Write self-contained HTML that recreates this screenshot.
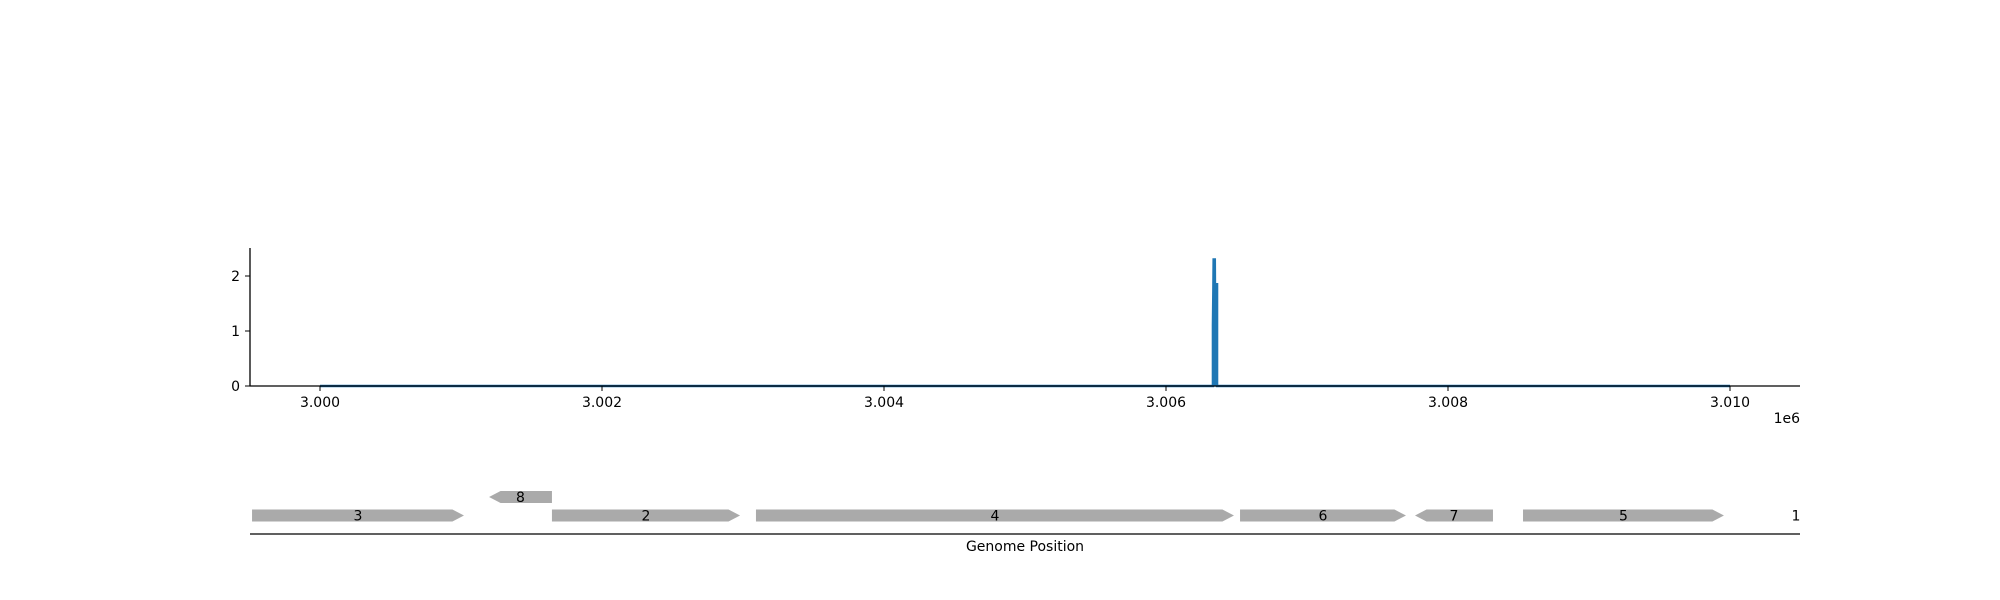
<!DOCTYPE html>
<html><head><meta charset="utf-8"><style>
body{margin:0;background:#fff;}
svg{display:block;font-family:"DejaVu Sans","Liberation Sans",sans-serif;}
</style></head><body>
<svg id="chart" width="2000" height="600" viewBox="0 0 2000 600"></svg>
<script>
const covPos=[3000000,3006333,3006333,3006336,3006338,3006346,3006347,3006362,3006362,3010000];
const covVal=[0,0,1.1,1.75,2.3,2.3,1.85,1.85,0,0];
const yTicks=[0,1,2];
const xTicks=[3000000,3002000,3004000,3006000,3008000,3010000];
const xTickLabels=["3.000","3.002","3.004","3.006","3.008","3.010"];
const geneNames=["3","8","2","4","6","7","5","1"];
const geneStart=[2999518,3001199,3001645,3003092,3006525,3007766,3008532,3010468];
const geneEnd=[3001021,3001645,3002979,3006482,3007702,3008319,3009957,3010468];
const geneStrand=[1,-1,1,1,1,-1,1,1];
const geneRow=[0,1,0,0,0,0,0,0];

const NS="http://www.w3.org/2000/svg";
const svg=document.getElementById('chart');
function X(v){return 320+(v-3000000)*0.141;}
function Y(v){return 386-v*55;}
function mk(tag,attrs,parent){const e=document.createElementNS(NS,tag);for(const k in attrs)e.setAttribute(k,attrs[k]);(parent||svg).appendChild(e);return e;}

let pts=covPos.map((p,i)=>X(p)+","+Y(covVal[i])).join(" ");
const area=mk('polygon',{points:X(covPos[0])+","+Y(0)+" "+pts+" "+X(covPos[covPos.length-1])+","+Y(0),fill:"#1f77b4",stroke:"none"});


const line=mk('polyline',{points:pts,fill:"none",stroke:"#1f77b4","stroke-width":2.5});



const ya=mk('line',{x1:250,y1:248,x2:250,y2:386.5,stroke:"#000","stroke-width":1.3});


const xa=mk('line',{x1:249.5,y1:386,x2:1800,y2:386,stroke:"#000","stroke-width":1.3});


yTicks.forEach(t=>{
  const tk=mk('line',{x1:245,y1:Y(t),x2:250,y2:Y(t),stroke:"#000","stroke-width":1});
  
  
  const tl=mk('text',{x:240,y:Y(t)+5,"text-anchor":"end","font-size":14});
  tl.textContent=t;
  
  
});
xTicks.forEach((t,i)=>{
  const tk=mk('line',{x1:X(t),y1:386,x2:X(t),y2:391,stroke:"#000","stroke-width":1});
  
  
  const tl=mk('text',{x:X(t),y:407,"text-anchor":"middle","font-size":14});
  tl.textContent=xTickLabels[i];
  
  
});
const off=mk('text',{x:1800,y:423,"text-anchor":"end","font-size":14});
off.textContent="1e6";



geneNames.forEach((n,i)=>{
  const x1=X(geneStart[i]),x2=X(geneEnd[i]);
  const yc=geneRow[i]?497:515.5, h=12, ah=Math.min(11.5,(x2-x1));
  if(x2-x1>1){
    let p;
    if(geneStrand[i]>0) p=`${x1},${yc-h/2} ${x2-ah},${yc-h/2} ${x2},${yc} ${x2-ah},${yc+h/2} ${x1},${yc+h/2}`;
    else p=`${x1+ah},${yc-h/2} ${x2},${yc-h/2} ${x2},${yc+h/2} ${x1+ah},${yc+h/2} ${x1},${yc}`;
    const g=mk('polygon',{points:p,fill:"#aaaaaa"});
    
    
  }
  const t=mk('text',{x:(x1+x2)/2,y:yc+5,"text-anchor":"middle","font-size":14});
  t.textContent=n;
  
  
});
const gl=mk('line',{x1:250,y1:534,x2:1800,y2:534,stroke:"#000","stroke-width":1.3});


const gt=mk('text',{x:1025,y:551,"text-anchor":"middle","font-size":14});
gt.textContent="Genome Position";


</script>
</body></html>
